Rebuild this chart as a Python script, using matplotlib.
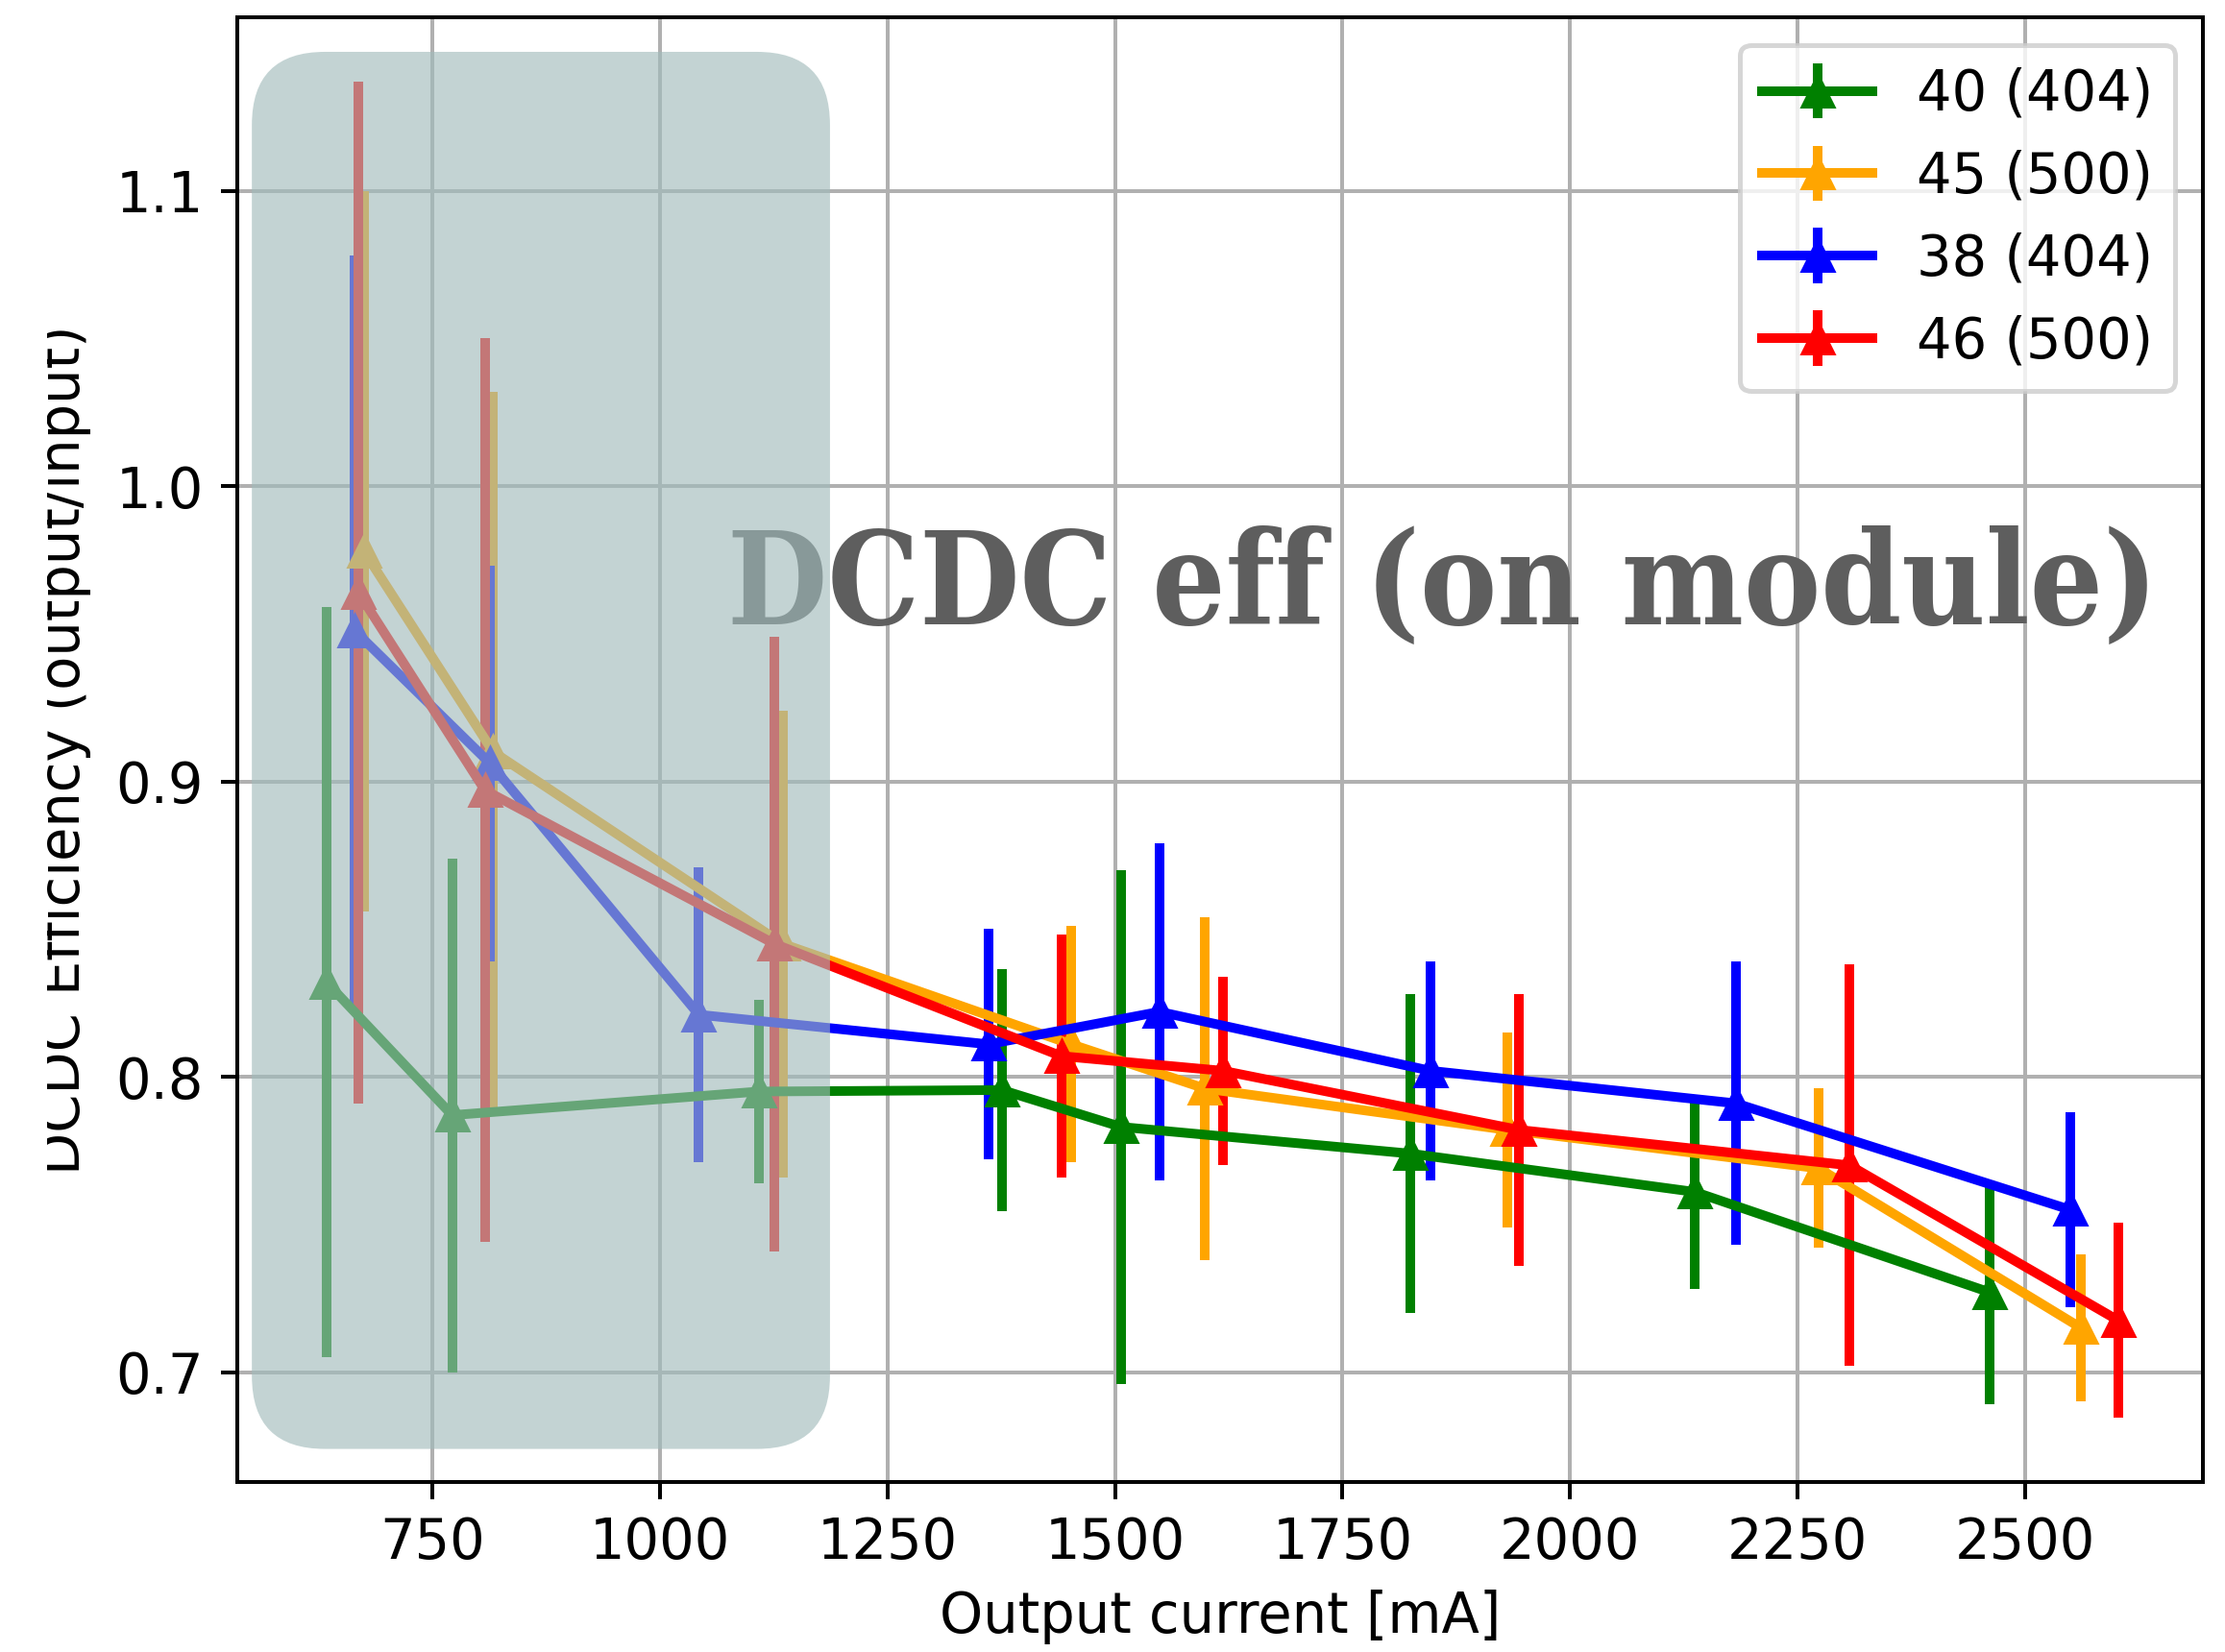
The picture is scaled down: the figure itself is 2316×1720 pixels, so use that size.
import matplotlib
matplotlib.use("Agg")
import matplotlib.pyplot as plt
from matplotlib.patches import FancyBboxPatch, Rectangle

# module efficiency vs output current, one series per module
labels = ["40 (404)", "45 (500)", "38 (404)", "46 (500)"]
colors = ["green", "orange", "blue", "red"]

x_40 = [634, 772, 1109, 1376, 1507, 1824, 2137, 2461]
eff_40 = [0.832, 0.787, 0.795, 0.7955, 0.783, 0.774, 0.761, 0.727]
err_40 = [0.127, 0.087, 0.031, 0.041, 0.087, 0.054, 0.033, 0.038]

x_45 = [675, 817, 1135, 1452, 1599, 1931, 2273, 2561]
eff_45 = [0.978, 0.910, 0.845, 0.811, 0.796, 0.782, 0.769, 0.715]
err_45 = [0.122, 0.122, 0.079, 0.040, 0.058, 0.033, 0.027, 0.025]

x_38 = [665, 814, 1043, 1361, 1549, 1847, 2182, 2549]
eff_38 = [0.951, 0.906, 0.821, 0.811, 0.822, 0.802, 0.791, 0.755]
err_38 = [0.127, 0.067, 0.050, 0.039, 0.057, 0.037, 0.048, 0.033]

x_46 = [669, 808, 1126, 1441, 1619, 1944, 2307, 2602]
eff_46 = [0.964, 0.897, 0.845, 0.807, 0.802, 0.782, 0.770, 0.7175]
err_46 = [0.173, 0.153, 0.104, 0.041, 0.032, 0.046, 0.068, 0.033]

# low-current region that is greyed out
box_x = (552, 1187)
box_y = (0.674, 1.147)

plt.rcParams['font.size'] = 11.5

fig = plt.figure(figsize=(2316/360, 1720/360), dpi=360)
ax = fig.add_axes([247/2316, 177/1720, 2046/2316, 1525/1720])

series = [(x_40, eff_40, err_40), (x_45, eff_45, err_45),
          (x_38, eff_38, err_38), (x_46, eff_46, err_46)]
for (xs, ys, es), lab, col in zip(series, labels, colors):
    ax.errorbar(xs, ys, yerr=es, color=col, marker='^', lw=2,
                elinewidth=2, label=lab)

ax.set_xlim(536, 2695)
ax.set_ylim(0.6628, 1.1587)
ax.set_xticks([750, 1000, 1250, 1500, 1750, 2000, 2250, 2500])
ax.set_yticks([0.7, 0.8, 0.9, 1.0, 1.1])
ax.grid(True)
ax.set_xlabel("Output current [mA]")
ax.set_ylabel("DCDC Efficiency (output/input)", labelpad=5)

title = ax.text(0.2493, 0.5856, "DCDC eff (on module)", transform=ax.transAxes,
                family="DejaVu Serif", weight="bold", stretch="condensed",
                fontsize=26.6, color="#5e5e5e",
                ha="left", va="baseline", zorder=3)
# fit the overlay text to the width it has in the original (~1489 px)
fig.canvas.draw()
w = title.get_window_extent().width
title.set_fontsize(26.6 * 1489 / w)

# rounded box: keep corners round in pixels despite the data aspect
px_x = (2695 - 536) / 2046
px_y = (1.1587 - 0.6628) / 1525
box = FancyBboxPatch((box_x[0], box_y[0]), box_x[1] - box_x[0], box_y[1] - box_y[0],
                     boxstyle="round,pad=0,rounding_size=%f" % (76 * px_x),
                     mutation_aspect=px_y / px_x,
                     facecolor=(161/255, 187/255, 187/255), alpha=0.64,
                     edgecolor='none', zorder=4)
ax.add_artist(box)

ax.legend(loc='upper right')

# the y label is cut off on its left side in the original
fig.add_artist(Rectangle((0, 0), 49/2316, 1, transform=fig.transFigure,
                         facecolor='white', edgecolor='none', zorder=10))

fig.savefig("out.png", dpi=360)
